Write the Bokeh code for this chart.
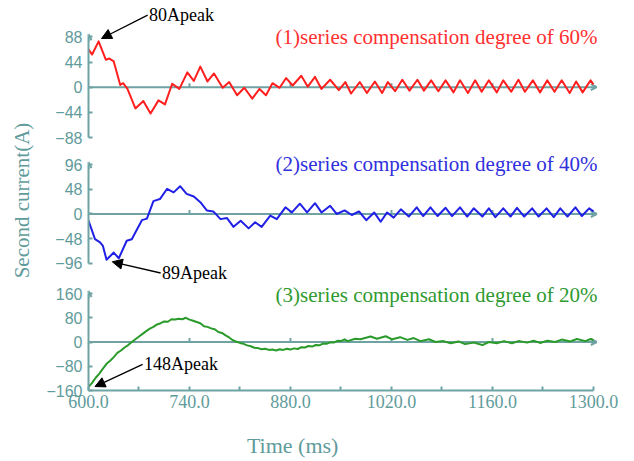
import math
from bokeh.plotting import figure
from bokeh.layouts import row, column
from bokeh.models import Range1d, FixedTicker, Arrow, OpenHead, NormalHead, Label, NumeralTickFormatter
from bokeh.embed import file_html
from bokeh.resources import INLINE
from bokeh.core.properties import value

# ---------------- data ----------------
red_t = [600, 605, 614, 624, 629, 635, 644, 648, 654, 665, 676, 686, 697, 706, 716, 726, 737, 746, 755, 765,
         774, 786, 795, 806, 816, 827, 837, 846, 855, 865, 874, 883, 895, 904, 914, 923, 935, 947, 956, 964,
         976, 986, 997, 1007, 1015, 1025, 1035, 1045, 1056, 1065, 1075, 1085, 1095, 1106, 1115, 1126, 1136, 1145, 1155, 1166,
         1175, 1186, 1196, 1205, 1216, 1226, 1236, 1246, 1256, 1267, 1276, 1285, 1296, 1300]
red_v = [66, 57, 80, 48, 50, 45, 4, 7, -3, -37, -24, -46, -23, -30, 6, -3, 26, 11, 36, 10,
         24, -1, 9, -14, -1, -20, -3, -14, 7, -1, 16, 3, 20, 1, 18, -3, 13, -5, 9, -11,
         9, -10, 10, -10, 9, -7, 13, -6, 13, -6, 12, -7, 12, -9, 12, -10, 12, -8, 12, -9,
         12, -8, 13, -8, 12, -9, 12, -8, 12, -10, 10, -9, 12, 5]

blue_t = [600, 609, 616, 620, 625, 635, 642, 653, 660, 674, 681, 690, 699, 709, 718, 727, 736, 746, 755, 764,
          773, 783, 792, 801, 811, 822, 831, 840, 852, 861, 873, 882, 893, 903, 914, 923, 935, 944, 955, 965,
          975, 985, 996, 1005, 1014, 1023, 1033, 1044, 1055, 1064, 1074, 1084, 1095, 1104, 1115, 1125, 1134, 1146, 1155, 1164,
          1175, 1185, 1194, 1204, 1215, 1224, 1235, 1245, 1254, 1264, 1275, 1284, 1294, 1300]
blue_v = [-13, -49, -55, -62, -89, -75, -86, -52, -49, -12, -9, 25, 29, 49, 42, 54, 39, 34, 23, 7,
          5, -10, -8, -25, -13, -28, -16, -25, -3, -10, 13, 3, 20, 3, 21, 3, 16, 0, 7, -2,
          5, -12, 3, -15, 3, -7, 9, -5, 13, -4, 13, -4, 12, -4, 13, -5, 11, -5, 11, -6,
          11, -5, 12, -5, 11, -5, 11, -6, 11, -5, 13, -4, 11, 5]

green_t = [600, 605, 610, 615, 620, 625, 630, 635, 640, 645, 650, 655, 660, 665, 670, 675, 680, 685, 690, 695,
           700, 705, 710, 715, 720, 725, 730, 735, 740, 745, 750, 755, 760, 765, 770, 775, 780, 785, 790, 795,
           800, 805, 810, 815, 820, 825, 830, 835, 840, 845, 850, 855, 860, 865, 870, 875, 880, 885, 890, 895,
           900, 905, 910, 915, 920, 925, 930, 935, 940, 945, 950, 955,
           959, 970, 977, 991, 1000, 1012, 1021, 1032, 1042, 1051, 1060, 1072, 1081, 1092, 1102, 1113, 1122, 1134,
           1146, 1155, 1166, 1176, 1187, 1196, 1208, 1217, 1226, 1236, 1247, 1256, 1268, 1277, 1289, 1296, 1300]
green_v = [-148, -135, -118, -104, -88, -72, -62, -50, -36, -28, -18, -10, 0, 9, 18, 27, 36, 44, 50, 58,
           62, 68, 67, 75, 74, 77, 75, 80, 74, 70, 66, 62, 52, 50, 45, 42, 33, 30, 22, 15,
           6, 1, -3, -6, -11, -14, -19, -20, -24, -22, -26, -25, -28, -24, -26, -22, -25, -21, -23, -17,
           -18, -13, -15, -10, -11, -5, -6, -1, -2, 4, 3, 9,
           3, 11, 9, 18, 11, 19, 9, 16, 7, 13, 3, 9, 0, 3, -4, 2, -7, -2,
           -10, 0, -4, 3, -4, 3, -2, 4, -3, 4, 0, 8, 2, 10, 3, 10, 6]

x_major = [600, 740, 880, 1020, 1160, 1300]
x_minor = [670, 810, 950, 1090, 1230]
y1_ticks = [-88, -44, 0, 44, 88]
y2_ticks = [-96, -48, 0, 48, 96]
y3_ticks = [-160, -80, 0, 80, 160]

titles = ["(1)series compensation degree of 60%",
          "(2)series compensation degree of 40%",
          "(3)series compensation degree of 20%"]
peaks = ["80Apeak", "89Apeak", "148Apeak"]
y_label = "Second current(A)"
x_label = "Time (ms)"

# ---------------- styles ----------------
TEAL_TXT = "#5f9b9b"
TEAL_LN = "#6fa3a3"
SERIF = "Liberation Serif"
X_END = 1305.6


def base(fh, yr, bottom_border, show_x, show_y):
    p = figure(frame_width=509, frame_height=fh,
               x_range=Range1d(600, X_END), y_range=Range1d(*yr),
               output_backend="svg", toolbar_location=None, title=None,
               min_border_left=53, min_border_right=37,
               min_border_top=0, min_border_bottom=bottom_border,
               x_axis_location="below" if show_x else None,
               y_axis_location="left" if show_y else None)
    p.grid.visible = False
    p.outline_line_color = None
    p.background_fill_color = "white"
    p.border_fill_color = "white"
    return p


def panel(fh, yr, ticks, bottom_border, show_x):
    p = base(fh, yr, bottom_border, show_x, True)
    ya = p.yaxis[0]
    ya.ticker = FixedTicker(ticks=ticks, minor_ticks=[])
    ya.bounds = (ticks[0], ticks[-1])
    ya.axis_line_color = TEAL_LN
    ya.axis_line_width = 2
    ya.major_tick_in = 4
    ya.major_tick_out = 0
    ya.major_tick_line_color = TEAL_LN
    ya.major_tick_line_width = 2
    ya.minor_tick_in = 0
    ya.minor_tick_out = 0
    ya.major_label_text_font = "Liberation Sans"
    ya.major_label_text_font_size = "16px"
    ya.major_label_text_color = TEAL_TXT
    ya.major_label_standoff = 6
    top = ticks[-1]
    span = yr[1] - yr[0]
    tip = top + 2.5 * span / fh
    p.add_layout(Arrow(end=OpenHead(size=6, line_color=TEAL_LN, line_width=2),
                       x_start=600, y_start=top - 5 * span / fh, x_end=600, y_end=tip,
                       line_color=TEAL_LN, line_width=2))
    p.add_layout(Arrow(end=OpenHead(size=6, line_color=TEAL_LN, line_width=2),
                       x_start=600, y_start=0, x_end=X_END - 1, y_end=0,
                       line_color=TEAL_LN, line_width=2, level="underlay"))
    p.segment(x0=x_major[1:-1], y0=[0] * 4, x1=x_major[1:-1], y1=[4 * span / fh] * 4,
              line_color=TEAL_LN, line_width=2, level="underlay")
    return p


def peak_note(p, text, xs, ys, xe, ye):
    p.add_layout(Arrow(end=NormalHead(size=10, fill_color="black", line_color="black"),
                       x_start=xs, y_start=ys, x_end=xe, y_end=ye, line_color="black", line_width=1.3))
    p.add_layout(Label(x=xs + 2, y=ys, text=text, text_align="left", text_baseline="middle",
                       text_font=SERIF, text_font_size="18px", text_color="black"))


def title_note(p, text, y, color):
    p.add_layout(Label(x=X_END, y=y, text=text, text_align="right", text_baseline="middle",
                       text_font=SERIF, text_font_size="21px", text_color=color))


# panel 1
f1 = panel(150, (-110.5, 151.4), y1_ticks, 0, False)
f1.line(red_t, red_v, line_color="#ff1f1f", line_width=2, line_join="round")
title_note(f1, titles[0], 88.5, "#ff3030")
peak_note(f1, peaks[0], 682, 126, 618, 85)

# panel 2
f2 = panel(133, (-135.1, 123.4), y2_ticks, 0, False)
f2.line(blue_t, blue_v, line_color="#2020e6", line_width=2, line_join="round")
title_note(f2, titles[1], 98, "#3030dd")
peak_note(f2, peaks[1], 700, -114.7, 633, -93)

# panel 3
f3 = panel(107, (-160, 193.1), y3_ticks, 36, True)
f3.line(green_t, green_v, line_color="#2a9a2a", line_width=2, line_join="round")
xa = f3.xaxis[0]
xa.ticker = FixedTicker(ticks=x_major, minor_ticks=x_minor)
xa.bounds = (600, 1300)
xa.formatter = NumeralTickFormatter(format="0.0")
xa.axis_line_color = TEAL_LN
xa.axis_line_width = 2
xa.major_tick_in = 4
xa.major_tick_out = 0
xa.minor_tick_in = 4
xa.minor_tick_out = 0
xa.major_tick_line_color = TEAL_LN
xa.minor_tick_line_color = TEAL_LN
xa.major_tick_line_width = 2
xa.minor_tick_line_width = 2
xa.major_label_text_font = SERIF
xa.major_label_text_font_size = "18px"
xa.major_label_text_color = TEAL_TXT
xa.major_label_standoff = 4
title_note(f3, titles[2], 156.8, "#2f9a2f")
peak_note(f3, peaks[2], 675, -74, 609, -147)

# x label strip (same frame geometry as the panels)
xl = base(35, (0, 35), 0, False, False)
xl.text(x=[883], y=[16], text=[x_label], text_align="center", text_baseline="middle",
        text_font=value(SERIF), text_font_size="22px", text_color=TEAL_TXT)

# y label strip
yl = figure(frame_width=35, frame_height=461, x_range=Range1d(0, 35), y_range=Range1d(0, 461),
            output_backend="svg", toolbar_location=None, title=None, min_border=0,
            x_axis_location=None, y_axis_location=None)
yl.grid.visible = False
yl.outline_line_color = None
yl.text(x=[21], y=[261], text=[y_label], angle=math.pi / 2,
        text_align="center", text_baseline="middle",
        text_font=value(SERIF), text_font_size="21px", text_color=TEAL_TXT)

layout = row(yl, column(f1, f2, f3, xl))
open("out.html", "w").write(file_html(layout, INLINE))
